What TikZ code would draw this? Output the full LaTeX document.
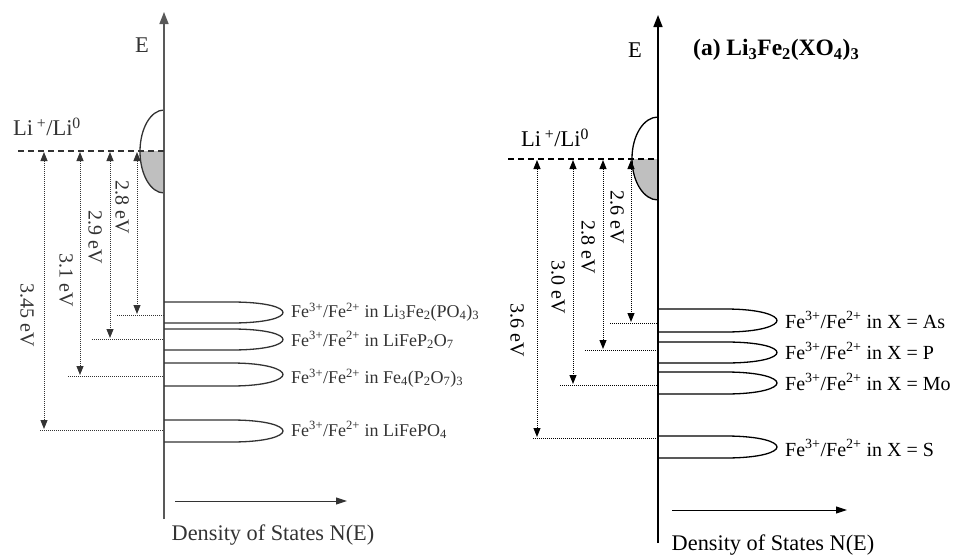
\documentclass[tikz,border=0pt]{standalone}
\usepackage{fontspec}
\setmainfont{Liberation Serif}
\usetikzlibrary{arrows.meta}
\newcommand\doslobe[4]{% axis x, top, bottom, tip x
  \draw[lobe] (#1,#2) -- ({#4-52},#2) .. controls ({#4-16},#2) and (#4,{(#2+#3)/2-5}) .. (#4,{(#2+#3)/2})
    .. controls (#4,{(#2+#3)/2+5}) and ({#4-16},#3) .. ({#4-52},#3) -- (#1,#3);}
\newcommand\dosbump[5]{% axis x, centre y, rx, ry, ref y
  \fill[bumpfill] (#1,#5) -- ({#1-#3},#5) .. controls ({#1-#3},{#2+0.5523*#4}) and ({#1-0.5523*#3},{#2+#4}) .. (#1,{#2+#4}) -- cycle;
  \draw[lobe] (#1,{#2-#4}) .. controls ({#1-0.5523*#3},{#2-#4}) and ({#1-#3},{#2-0.5523*#4}) .. ({#1-#3},#2)
    .. controls ({#1-#3},{#2+0.5523*#4}) and ({#1-0.5523*#3},{#2+#4}) .. (#1,{#2+#4});}
\begin{document}
\begin{tikzpicture}[x=1pt,y=-1pt,
  axis/.style={line width=1.5pt,-{Triangle[length=12pt,width=9pt]}},
  lobe/.style={line width=1.3pt},
  bumpfill/.style={fill=black!25},
  refline/.style={line width=1.3pt,dash pattern=on 6pt off 4pt},
  lvl/.style={line width=1pt,dash pattern=on 1pt off 1pt},
  gaparrow/.style={line width=1pt,dash pattern=on 1pt off 1pt,
    {Triangle[length=9pt,width=7pt]}-{Triangle[length=9pt,width=7pt]}},
  dosarrow/.style={line width=1pt,-{Triangle[length=11pt,width=7pt]}},
  fe/.style={anchor=west,inner sep=0pt,font=\fontsize{18}{21}\selectfont},
  feR/.style={anchor=west,inner sep=0pt,font=\fontsize{20}{24}\selectfont},
  ev/.style={rotate=-90,inner sep=0pt,font=\fontsize{20}{24}\selectfont},
  big/.style={inner sep=0pt,font=\fontsize{22.5}{26}\selectfont},
  dens/.style={inner sep=0pt,font=\fontsize{22.3}{26}\selectfont},
  ttl/.style={anchor=west,inner sep=0pt,font=\fontsize{23.5}{28}\selectfont\bfseries}]
\useasboundingbox (0,0) rectangle (953,557);

% ---------------- left panel ----------------
\begin{scope}[black!80]
\dosbump{164}{151.5}{24}{41.5}{151}
\coordinate (LaxB) at (164,519);
\coordinate (LaxT) at (164,12);
\draw[axis,black!65] (LaxB) -- (LaxT);
\node[big] (LE) at (142,45) {E};
\coordinate (LrefL) at (18,151);
\coordinate (LrefR) at (164,151);
\draw[refline] (LrefL) -- (LrefR);
\node[big] (LLi) at (47,127) {Li\,\textsuperscript{+}/Li\textsuperscript{0}};

\doslobe{164}{302}{323}{283}
\doslobe{164}{329}{350}{283}
\doslobe{164}{363}{386}{283}
\doslobe{164}{420}{442}{283}

% levels
\coordinate (La1) at (117,315); \coordinate (Lb1) at (164,315);
\coordinate (La2) at (92,339);  \coordinate (Lb2) at (164,339);
\coordinate (La3) at (68,376);  \coordinate (Lb3) at (164,376);
\coordinate (La4) at (40,430);  \coordinate (Lb4) at (164,430);
\draw[lvl] (La1) -- (Lb1);
\draw[lvl] (La2) -- (Lb2);
\draw[lvl] (La3) -- (Lb3);
\draw[lvl] (La4) -- (Lb4);

\coordinate (Lt1) at (137,152); \coordinate (Ld1) at (137,314);
\coordinate (Lt2) at (110,152); \coordinate (Ld2) at (110,338);
\coordinate (Lt3) at (80,152);  \coordinate (Ld3) at (80,375);
\coordinate (Lt4) at (44,152);  \coordinate (Ld4) at (44,429);
\draw[gaparrow] (Lt1) -- (Ld1);
\draw[gaparrow] (Lt2) -- (Ld2);
\draw[gaparrow] (Lt3) -- (Ld3);
\draw[gaparrow] (Lt4) -- (Ld4);

\node[ev] (Lev1) at (122,207) {2.8 eV};
\node[ev] (Lev2) at (95,237) {2.9 eV};
\node[ev] (Lev3) at (66,280) {3.1 eV};
\node[ev] (Lev4) at (27,315) {3.45 eV};

\node[fe] (Lfe1) at (291,312) {Fe\textsuperscript{3+}/Fe\textsuperscript{2+} in Li\textsubscript{3}Fe\textsubscript{2}(PO\textsubscript{4})\textsubscript{3}};
\node[fe] (Lfe2) at (291,340) {Fe\textsuperscript{3+}/Fe\textsuperscript{2+} in LiFeP\textsubscript{2}O\textsubscript{7}};
\node[fe] (Lfe3) at (291,378) {Fe\textsuperscript{3+}/Fe\textsuperscript{2+} in Fe\textsubscript{4}(P\textsubscript{2}O\textsubscript{7})\textsubscript{3}};
\node[fe] (Lfe4) at (291,430) {Fe\textsuperscript{3+}/Fe\textsuperscript{2+} in LiFePO\textsubscript{4}};

\coordinate (LdA) at (175,501); \coordinate (LdB) at (347,501);
\draw[dosarrow] (LdA) -- (LdB);
\node[dens] (Ldens) at (273,535) {Density of States N(E)};
\end{scope}

% ---------------- right panel ----------------
\dosbump{658}{158.5}{26}{41.5}{159}
\coordinate (RaxB) at (658,543);
\coordinate (RaxT) at (658,15);
\draw[axis] (RaxB) -- (RaxT);
\node[big] (RE) at (635,50) {E};
\node[ttl] (Rttl) at (693,50) {(a) Li\textsubscript{3}Fe\textsubscript{2}(XO\textsubscript{4})\textsubscript{3}};
\coordinate (RrefL) at (508,159);
\coordinate (RrefR) at (658,159);
\draw[refline] (RrefL) -- (RrefR);
\node[big] (RLi) at (555,138) {Li\,\textsuperscript{+}/Li\textsuperscript{0}};

\doslobe{658}{309}{332}{777}
\doslobe{658}{342}{363}{777}
\doslobe{658}{372}{394}{777}
\doslobe{658}{436}{458}{777}

\coordinate (Ra1) at (610,323); \coordinate (Rb1) at (658,323);
\coordinate (Ra2) at (585,350); \coordinate (Rb2) at (658,350);
\coordinate (Ra3) at (560,385); \coordinate (Rb3) at (658,385);
\coordinate (Ra4) at (533,438); \coordinate (Rb4) at (658,438);
\draw[lvl] (Ra1) -- (Rb1);
\draw[lvl] (Ra2) -- (Rb2);
\draw[lvl] (Ra3) -- (Rb3);
\draw[lvl] (Ra4) -- (Rb4);

\coordinate (Rt1) at (631,160); \coordinate (Rd1) at (631,322);
\coordinate (Rt2) at (603,160); \coordinate (Rd2) at (603,349);
\coordinate (Rt3) at (573,160); \coordinate (Rd3) at (573,384);
\coordinate (Rt4) at (537,160); \coordinate (Rd4) at (537,437);
\draw[gaparrow] (Rt1) -- (Rd1);
\draw[gaparrow] (Rt2) -- (Rd2);
\draw[gaparrow] (Rt3) -- (Rd3);
\draw[gaparrow] (Rt4) -- (Rd4);

\node[ev] (Rev1) at (617,217) {2.6 eV};
\node[ev] (Rev2) at (588,247) {2.8 eV};
\node[ev] (Rev3) at (558,287) {3.0 eV};
\node[ev] (Rev4) at (517,330) {3.6 eV};

\node[feR] (Rfe1) at (785,320) {Fe\textsuperscript{3+}/Fe\textsuperscript{2+} in X = As};
\node[feR] (Rfe2) at (785,351) {Fe\textsuperscript{3+}/Fe\textsuperscript{2+} in X = P};
\node[feR] (Rfe3) at (785,382) {Fe\textsuperscript{3+}/Fe\textsuperscript{2+} in X = Mo};
\node[feR] (Rfe4) at (785,448) {Fe\textsuperscript{3+}/Fe\textsuperscript{2+} in X = S};

\coordinate (RdA) at (672,510); \coordinate (RdB) at (847,510);
\draw[dosarrow] (RdA) -- (RdB);
\node[dens] (Rdens) at (773,545) {Density of States N(E)};
\end{tikzpicture}
\end{document}
